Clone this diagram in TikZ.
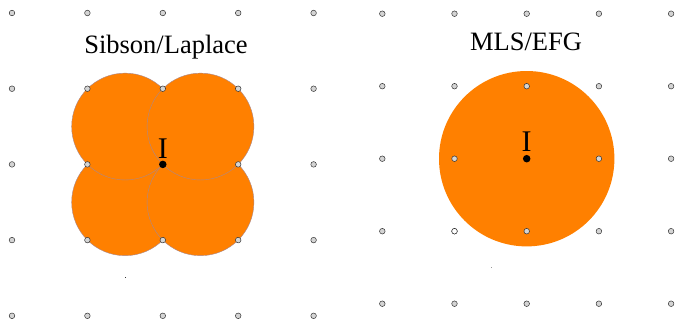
\documentclass[tikz,border=0pt]{standalone}
\usepackage{fontspec}
\setmainfont{Liberation Serif}
\usetikzlibrary{calc}
\definecolor{patch}{HTML}{FF8000}
\definecolor{rim}{HTML}{A88890}
\definecolor{dotfill}{HTML}{D4D4D4}
\begin{document}
\begin{tikzpicture}[x=1pt,y=-1pt,
  gridpt/.style={circle,draw=black!80,line width=0.5pt,fill=dotfill,inner sep=0pt,minimum size=5.6pt},
  openpt/.style={gridpt,fill=white},
  evalpt/.style={circle,fill=black,inner sep=0pt,minimum size=7.5pt},
  support/.style={fill=patch,draw=rim,line width=0.4pt},
  title/.style={font=\fontsize{26.5}{30}\selectfont,inner sep=0pt},
  ilabel/.style={font=\fontsize{30}{34}\selectfont,inner sep=0pt,anchor=base}]
\useasboundingbox (0,0) rectangle (675,324);

% ---- left: natural-neighbour (Sibson / Laplace) supports ----
\def\hl{75.4}
\def\vl{75.7}
\path (12+2*\hl,13+2*\vl) coordinate (IL);
\pgfmathsetmacro{\rl}{0.5*sqrt(\hl*\hl+\vl*\vl)}
\foreach \dx/\dy in {-1/1,1/1,-1/-1,1/-1}
  \filldraw[support] ($(IL)+(\dx*0.5*\hl,\dy*0.5*\vl)$) circle (\rl);
\foreach \i in {0,...,4}
  \foreach \j in {0,...,4}
    \node[gridpt] (L\i\j) at (12+\i*\hl,13+\j*\vl) {};
\node[evalpt] (ptL) at (IL) {};
\node[ilabel] (labL) at ($(IL)+(0,-6)$) {I};
\node[title] (tL) at (166,47) {Sibson/Laplace};

% ---- right: MLS / EFG support ----
\def\hr{72.2}
\def\vr{72.5}
\path (382.3+2*\hr,13.7+2*\vr) coordinate (IR);
\fill[patch] (IR) circle (87.7);
\foreach \i in {0,...,4}
  \foreach \j in {0,...,4}
    \node[gridpt] (R\i\j) at (382.3+\i*\hr,13.7+\j*\vr) {};
\node[openpt] at (R13) {};
\node[evalpt] (ptR) at (IR) {};
\node[ilabel] (labR) at ($(IR)+(0,-7.5)$) {I};
\node[title] (tR) at (526,42) {MLS/EFG};

% stray specks
\fill[black!80] (124.5,276.5) rectangle (125.8,277.8);
\fill[black!40] (490.5,266.5) rectangle (491.8,268.3);
\end{tikzpicture}
\end{document}
